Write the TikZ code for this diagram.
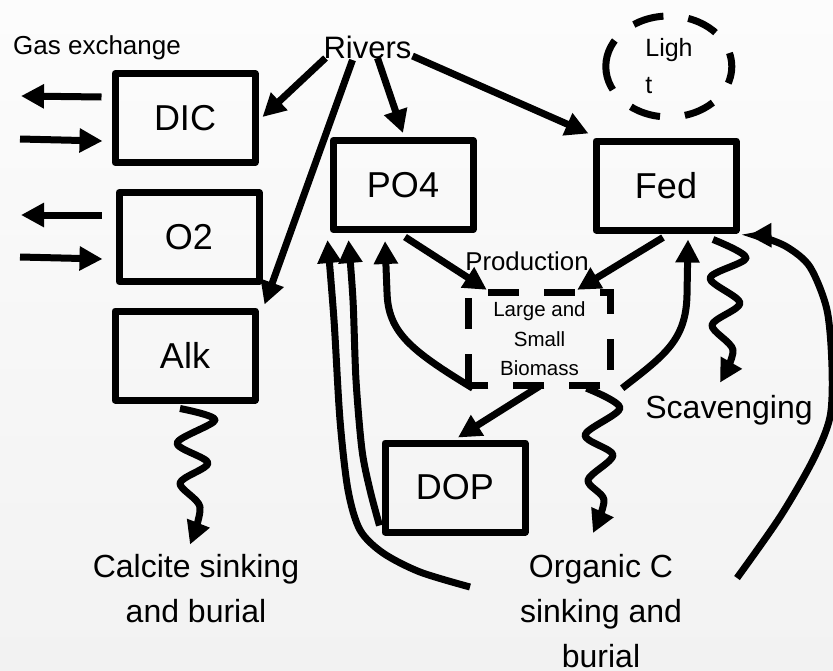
\documentclass[tikz,border=0pt]{standalone}
\usepackage{fontspec}
\setmainfont{Liberation Sans}
\usetikzlibrary{arrows.meta,calc,shapes.geometric}
\begin{document}
\begin{tikzpicture}[x=1pt,y=-1pt,
  box/.style={draw, line width=7pt, line join=round, minimum width=140pt, minimum height=89pt, inner sep=0pt, font=\fontsize{36}{43}\selectfont},
  arr/.style={line width=7pt, -{Triangle[length=23pt,width=23pt]}},
  lbl/.style={inner sep=0pt, font=\fontsize{32}{45}\selectfont},
  dashline/.style={line width=7pt, dash pattern=on 31pt off 25pt},
  ]
\shade[top color={rgb,255:red,252;green,252;blue,252}, bottom color={rgb,255:red,242;green,242;blue,242}] (0,0) rectangle (833,670);
\useasboundingbox (0,0) rectangle (833,670);

% boxes
\node[box] (DIC) at (185,118) {DIC};
\node[box] (O2) at (189,237) {O2};
\node[box] (Alk) at (185,355.5) {Alk};
\node[box] (PO4) at (403,185) {PO4};
\node[box] (Fed) at (666,185.5) {Fed};
\node[box] (DOP) at (455,487.5) {DOP};
\node[minimum width=141pt, minimum height=92pt, inner sep=0pt, align=center, font=\fontsize{20.5}{29.5}\selectfont] (BM) at (539.5,339) {Large and\\Small\\Biomass};
\draw[dashline] (BM.south west) -- (BM.north west) -- (BM.north east) -- (BM.south east) -- cycle;
\node[ellipse, minimum width=126pt, minimum height=101pt, inner sep=0pt, align=left, font=\fontsize{25}{37}\selectfont] (Light) at (669,66.5) {Ligh\\t};
\draw[dashline, dash phase=3pt] (Light.west) arc[start angle=180, end angle=-180, x radius=63pt, y radius=50.5pt];

% labels
\node[anchor=base, inner sep=0pt, font=\fontsize{26}{30}\selectfont] (gas) at (97,54) {Gas exchange};
\node[anchor=base, inner sep=0pt, font=\fontsize{31}{36}\selectfont] (Rivers) at (367.5,58) {Rivers};
\node[anchor=base, inner sep=0pt, font=\fontsize{25.8}{30}\selectfont] (prod) at (527,270) {Production};
\node[anchor=base, lbl] (scav) at (729,418) {Scavenging};
\node[lbl, align=center] (calcite) at (196,589) {Calcite sinking\\and burial};
\node[lbl, align=center] (org) at (601,611) {Organic C\\sinking and\\burial};

% free ends
\coordinate (gx1) at (21,96);
\coordinate (gx2) at (20,139);
\coordinate (gx3) at (21,215);
\coordinate (gx4) at (20,257);
\coordinate (o1) at (470,587);
\coordinate (o2) at (737,578);

% gas exchange
\draw[arr] ($(DIC.west)+(-10,-21)$) -- (gx1);
\draw[arr] (gx2) -- ($(DIC.west)+(-9,23)$);
\draw[arr] ($(O2.west)+(-14,-22)$) -- (gx3);
\draw[arr] (gx4) -- ($(O2.west)+(-13,22)$);

% rivers
\draw[arr] ($(Rivers.base)+(-42,0)$) -- ($(DIC.east)+(4,-1)$);
\draw[arr] ($(Rivers.base)+(-15,2)$) -- ($(Alk.north east)+(6,-3)$);
\draw[arr] ($(Rivers.base)+(10,0)$) -- ($(PO4.north)+(0,-4)$);
\draw[arr] ($(Rivers.base)+(45,-2)$) -- ($(Fed.north west)+(-4,-4)$);

% production
\draw[arr] ($(PO4.south)+(2,4)$) -- ($(BM.north west)+(18,-3)$);
\draw[arr] ($(Fed.south)+(-3,4)$) -- ($(BM.north east)+(-33,-3)$);
\draw[arr] ($(BM.south)+(0,1)$) -- ($(DOP.north)+(3,-2)$);

% remineralisation curves
\draw[arr] ($(BM.south west)+(4,3)$) .. controls (410,350) and (388,332) .. (387,292) -- ($(PO4.south)+(-18,8)$);
\draw[arr] ($(BM.south east)+(12,3)$) .. controls (665,355) and (686,340) .. (687,295) -- ($(Fed.south)+(22,6)$);

% long return curves
\draw[arr] plot[smooth] coordinates {(o1) (420,572) (383,553) (360,530) (348,490) (340,420) (334,320) ($(PO4.south west)+(-2,7)$)};
\draw[arr] plot[smooth] coordinates {($(DOP.south west)+(-2,-10)$) (370,490) (362,450) (356,380) (353,300) ($(PO4.south west)+(19,7)$)};
\draw[arr] plot[smooth] coordinates {(o2) (780,517) (813,460) (830,417) (832,367) (827,310) (810,267) (787,247) (762,237) ($(Fed.south east)+(9,2)$)};

% sinking wiggles
\draw[arr, line join=round] plot[smooth] coordinates {($(Alk.south)+(-5,5)$) (215,420) (177,443) (208,463) (180,483) (200,507) ($(calcite.north)+(-6,-10)$)};
\draw[arr, line join=round] plot[smooth] coordinates {($(BM.south)+(47,3)$) (620,408) (585,435) (613,455) (588,480) (604,500) ($(org.north)+(-8,-21)$)};
\draw[arr, line join=round] plot[smooth] coordinates {($(Fed.south)+(47,6)$) (746,258) (710,278) (740,303) (712,325) (733,350) ($(scav.north)+(-9,-12)$)};
\end{tikzpicture}
\end{document}
